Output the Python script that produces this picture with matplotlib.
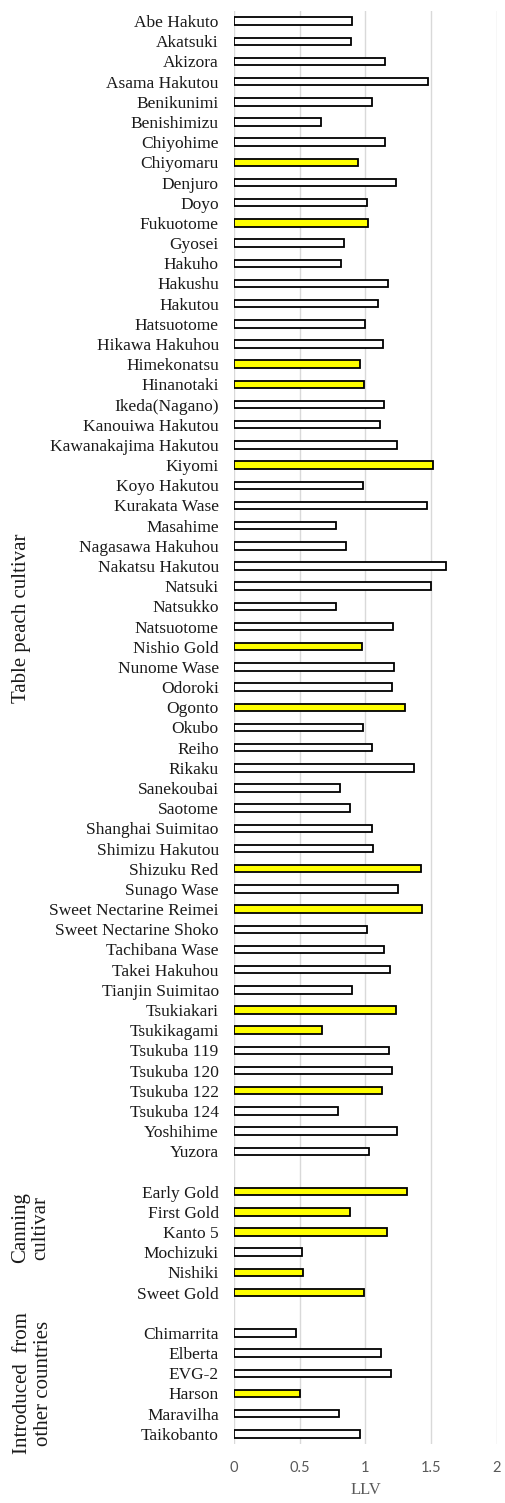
import numpy as np
import matplotlib
matplotlib.use("Agg")
import matplotlib.pyplot as plt
import matplotlib.transforms as mtransforms

table_names = [
    "Abe Hakuto", "Akatsuki", "Akizora", "Asama Hakutou", "Benikunimi",
    "Benishimizu", "Chiyohime", "Chiyomaru", "Denjuro", "Doyo", "Fukuotome",
    "Gyosei", "Hakuho", "Hakushu", "Hakutou", "Hatsuotome", "Hikawa Hakuhou",
    "Himekonatsu", "Hinanotaki", "Ikeda(Nagano)", "Kanouiwa Hakutou",
    "Kawanakajima Hakutou", "Kiyomi", "Koyo Hakutou", "Kurakata Wase",
    "Masahime", "Nagasawa Hakuhou", "Nakatsu Hakutou", "Natsuki", "Natsukko",
    "Natsuotome", "Nishio Gold", "Nunome Wase", "Odoroki", "Ogonto", "Okubo",
    "Reiho", "Rikaku", "Sanekoubai", "Saotome", "Shanghai Suimitao",
    "Shimizu Hakutou", "Shizuku Red", "Sunago Wase", "Sweet Nectarine Reimei",
    "Sweet Nectarine Shoko", "Tachibana Wase", "Takei Hakuhou",
    "Tianjin Suimitao", "Tsukiakari", "Tsukikagami", "Tsukuba 119",
    "Tsukuba 120", "Tsukuba 122", "Tsukuba 124", "Yoshihime", "Yuzora",
]
table_vals = [
    0.90, 0.887, 1.146, 1.474, 1.052, 0.658, 1.151, 0.945, 1.23, 1.009, 1.021,
    0.836, 0.811, 1.171, 1.095, 0.996, 1.131, 0.958, 0.988, 1.143, 1.108,
    1.238, 1.512, 0.978, 1.471, 0.775, 0.851, 1.614, 1.499, 0.775, 1.21,
    0.973, 1.217, 1.202, 1.299, 0.981, 1.052, 1.372, 0.803, 0.882, 1.05,
    1.06, 1.42, 1.25, 1.428, 1.009, 1.143, 1.187, 0.895, 1.235, 0.666,
    1.179, 1.202, 1.123, 0.788, 1.243, 1.029,
]
canning_names = ["Early Gold", "First Gold", "Kanto 5", "Mochizuki", "Nishiki", "Sweet Gold"]
canning_vals = [1.314, 0.879, 1.166, 0.516, 0.526, 0.988]
intro_names = ["Chimarrita", "Elberta", "EVG-2", "Harson", "Maravilha", "Taikobanto"]
intro_vals = [0.475, 1.121, 1.194, 0.503, 0.795, 0.958]

yellow = {
    "Chiyomaru", "Fukuotome", "Himekonatsu", "Hinanotaki", "Kiyomi",
    "Nishio Gold", "Ogonto", "Shizuku Red", "Sweet Nectarine Reimei",
    "Tsukiakari", "Tsukikagami", "Tsukuba 122", "Early Gold", "First Gold",
    "Kanto 5", "Nishiki", "Sweet Gold", "Harson",
}

groups = [
    ("Table peach cultivar", table_names, table_vals),
    ("Canning\ncultivar", canning_names, canning_vals),
    ("Introduced  from\nother countries", intro_names, intro_vals),
]

# positions with one empty slot between groups
names, vals, pos, centers = [], [], [], []
p = 0
for title, n, v in groups:
    gp = list(range(p, p + len(n)))
    names += n
    vals += v
    pos += gp
    centers.append(np.mean(gp))
    p += len(n) + 1

fig = plt.figure(figsize=(5.05, 15.03), dpi=100)
ax = fig.add_axes([0.4634, 0.0393, 0.984 - 0.4634, 0.9927 - 0.0393])

colors = ["#FFFF00" if n in yellow else "white" for n in names]
ax.barh(pos, vals, height=0.37, color=colors, edgecolor="black", linewidth=1.3, zorder=3)

ax.set_xlim(0, 2)
ax.set_ylim(pos[-1] + 0.5, -0.5)
ax.set_xticks([0, 0.5, 1, 1.5, 2])
ax.set_xticklabels(["0", "0.5", "1", "1.5", "2"], family="Lato", fontsize=10.5, color="#595959")
ax.set_yticks(pos)
ax.set_yticklabels(names, family="Liberation Serif", fontsize=12.5, color="#1a1a1a")
ax.tick_params(axis="both", length=0)
ax.tick_params(axis="y", pad=11)
ax.tick_params(axis="x", pad=12)
ax.xaxis.grid(True, color="#d9d9d9", linewidth=1.0, zorder=0)
for s in ax.spines.values():
    s.set_visible(False)
ax.set_xlabel("LLV", family="Liberation Serif", fontsize=12, color="#595959", labelpad=5)

trans = mtransforms.blended_transform_factory(fig.transFigure, ax.transData)
offsets = [(0.0416, 1.6), (0.0614, -0.7), (0.065, 0.0)]
for (title, n, v), c, (xf, dy) in zip(groups, centers, offsets):
    ax.text(xf, c + dy, title, transform=trans, rotation=90, ha="center", va="center",
            family="Liberation Serif", fontsize=15, color="#1a1a1a", multialignment="center",
            linespacing=1.1)

fig.savefig("out.png", dpi=100)
